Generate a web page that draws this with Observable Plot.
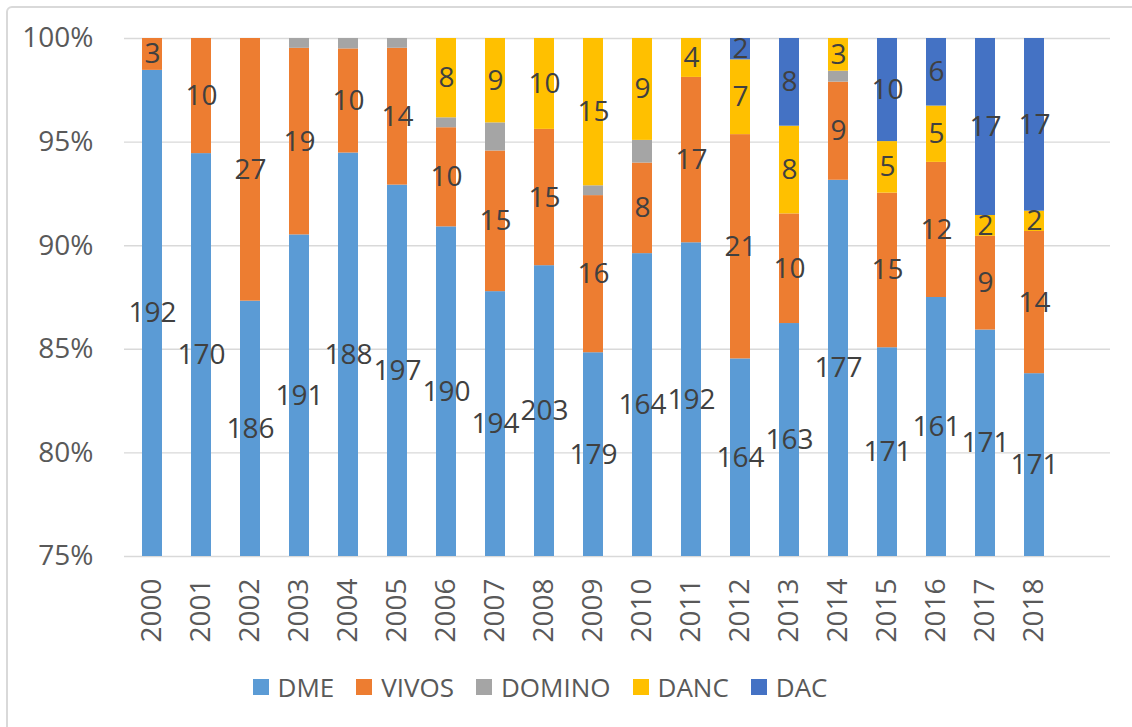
<!DOCTYPE html>
<html>
<head>
<meta charset="utf-8">
<script src="https://cdn.jsdelivr.net/npm/d3@7"></script>
<script src="https://cdn.jsdelivr.net/npm/@observablehq/plot@0.6"></script>
<style>
  html, body { margin: 0; padding: 0; background: #fff; overflow: hidden; }
  #wrap { position: relative; width: 1132px; height: 727px; overflow: hidden; font-family: "Open Sans", sans-serif; }
  #frame { position: absolute; left: 6px; top: 6px; width: 1200px; height: 800px; border: 2px solid #d9d9d9; border-radius: 6px; pointer-events: none; }
  #chart { position: absolute; left: 0; top: 0; }
  #legend { position: absolute; left: 0; width: 1080px; top: 667px; height: 40px; display: flex; justify-content: center; align-items: center; gap: 22px; color: #595959; font-size: 26px; }
  .item { display: flex; align-items: center; }
  .sw { width: 16px; height: 16px; margin-right: 9px; }
</style>
</head>
<body>
<div id="wrap">
  <div id="chart"></div>
  <div id="legend"></div>
  <div id="frame"></div>
</div>
<script>
const years = ["2000","2001","2002","2003","2004","2005","2006","2007","2008","2009","2010","2011","2012","2013","2014","2015","2016","2017","2018"];
const seriesNames = ["DME","VIVOS","DOMINO","DANC","DAC"];
const seriesColors = ["#5B9BD5","#ED7D31","#A5A5A5","#FFC000","#4472C4"];
const DME    = [192,170,186,191,188,197,190,194,203,179,164,192,164,163,177,171,161,171,171];
const VIVOS  = [3,10,27,19,10,14,10,15,15,16,8,17,21,10,9,15,12,9,14];
const DOMINO = [0,0,0,1,1,1,1,3,0,1,2,0,0,0,1,0,0,0,0];
const DANC   = [0,0,0,0,0,0,8,9,10,15,9,4,7,8,3,5,5,2,2];
const DAC    = [0,0,0,0,0,0,0,0,0,0,0,0,2,8,0,10,6,17,17];
const yTicks = [0.75,0.80,0.85,0.90,0.95,1.00];
const labeled = ["DME","VIVOS","DANC","DAC"];

const seriesValues = [DME, VIVOS, DOMINO, DANC, DAC];
const yMin = 0.75, yMax = 1;

const rows = [];
const labels = [];
years.forEach((year, i) => {
  const total = d3.sum(seriesValues, s => s[i]);
  let acc = 0;
  seriesNames.forEach((name, k) => {
    const v = seriesValues[k][i];
    const y1 = acc / total;
    acc += v;
    const y2 = acc / total;
    if (v > 0) {
      rows.push({year, series: name, value: v, y1, y2});
      if (labeled.includes(name)) {
        const lo = Math.max(y1, yMin), hi = Math.min(y2, yMax);
        labels.push({year, series: name, value: v, mid: (lo + hi) / 2});
      }
    }
  });
});

const chart = Plot.plot({
  width: 1132,
  height: 650,
  marginLeft: 124,
  marginRight: 22,
  marginTop: 38,
  marginBottom: 94,
  style: {fontFamily: "'Open Sans', sans-serif", fontSize: "28px", background: "transparent"},
  x: {domain: years, range: [109.4, 1075.7], padding: 0.6},
  y: {domain: [yMin, yMax]},
  color: {domain: seriesNames, range: seriesColors},
  marks: [
    Plot.ruleY(yTicks, {stroke: "#d9d9d9", strokeWidth: 1.4}),
    Plot.barY(rows, {x: "year", y1: "y1", y2: "y2", fill: "series", clip: true}),
    Plot.text(labels, {x: "year", y: "mid", text: d => String(d.value), fill: "#404040", fontSize: 28}),
    Plot.axisY({ticks: yTicks, tickFormat: d3.format(".0%"), tickSize: 0, tickPadding: 31, fontSize: 28, fill: "#595959", label: null}),
    Plot.axisX({tickRotate: -90, tickSize: 0, tickPadding: 22, fontSize: 28, fill: "#595959", label: null})
  ]
});
document.getElementById("chart").appendChild(chart);

const legend = document.getElementById("legend");
seriesNames.forEach((name, k) => {
  const item = document.createElement("div");
  item.className = "item";
  const sw = document.createElement("div");
  sw.className = "sw";
  sw.style.background = seriesColors[k];
  const t = document.createElement("span");
  t.textContent = name;
  item.appendChild(sw);
  item.appendChild(t);
  legend.appendChild(item);
});
</script>
</body>
</html>
